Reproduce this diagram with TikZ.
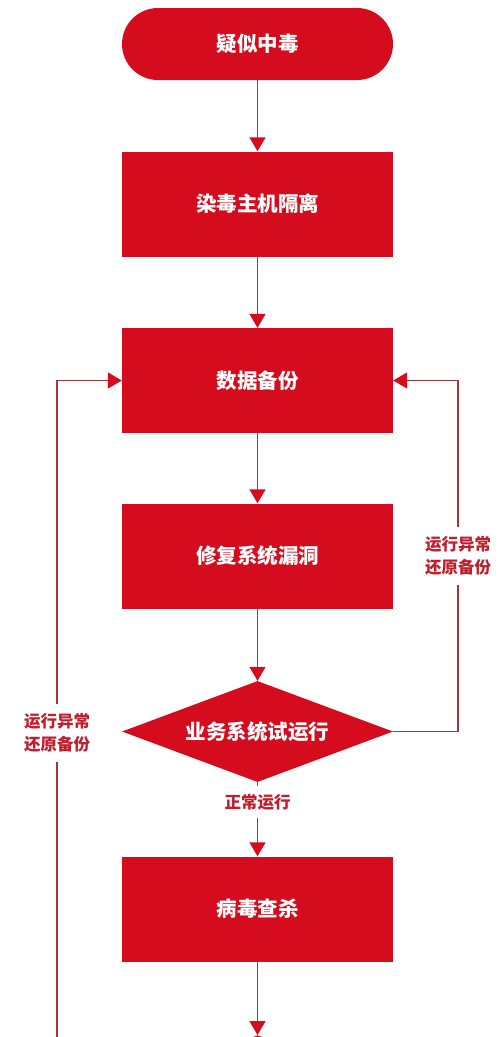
\documentclass[tikz,border=0pt]{standalone}
\usepackage{fontspec}
\newfontfamily\cjk{Noto Sans CJK SC}
\usetikzlibrary{arrows.meta,shapes.geometric}
\definecolor{boxred}{HTML}{D50C1D}
\definecolor{linered}{HTML}{A8343E}
\definecolor{labred}{HTML}{C21D2C}
\tikzset{
  stepbox/.style={fill=boxred, draw=none, minimum width=271pt, minimum height=105pt, inner sep=0pt, text=white, font=\cjk\bfseries\fontsize{20.5pt}{24pt}\selectfont},
  startbox/.style={stepbox, minimum height=72pt, rounded corners=36pt},
  decbox/.style={diamond, aspect=2.68, fill=boxred, draw=none, minimum width=271pt, minimum height=101pt, inner sep=0pt, text=white, font=\cjk\bfseries\fontsize{20.5pt}{24pt}\selectfont},
  conn/.style={draw=linered, line width=1.5pt, -{Triangle[length=14pt,width=16pt,color=boxred]}},
  plain/.style={draw=linered, line width=1.5pt},
  lab/.style={fill=white, text=labred, align=center, inner xsep=2pt, font=\cjk\bfseries\fontsize{16.5pt}{23pt}\selectfont},
}
\begin{document}
\begin{tikzpicture}[x=1pt,y=-1pt]
\useasboundingbox (0,0) rectangle (500,1037);
\clip (0,0) rectangle (500,1037);
\node[startbox] (s) at (257.5,44) {疑似中毒};
\node[stepbox] (b2) at (257.5,204) {染毒主机隔离};
\node[stepbox] (b3) at (257.5,380.5) {数据备份};
\node[stepbox] (b4) at (257.5,556) {修复系统漏洞};
\node[decbox] (d) at (257.5,731.5) {业务系统试运行};
\node[stepbox] (b5) at (257.5,909) {病毒查杀};
\node[decbox, anchor=north] (d2) at (257.5,1035) {};
\coordinate (rc) at (458,731.5);
\coordinate (rt) at (458,380.5);
\coordinate (lb) at (57,1050);
\coordinate (lt) at (57,380.5);
\draw[conn] (s) -- (b2);
\draw[conn] (b2) -- (b3);
\draw[conn] (b3) -- (b4);
\draw[conn] (b4) -- (d);
\draw[conn] (d) -- (b5);
\draw[conn] (b5) -- (d2);
\draw[conn] (d.east) -- (rc) -- (rt) -- (b3.east);
\draw[conn] (lb) -- (lt) -- (b3.west);
\node[lab, inner ysep=10pt] (l1) at (458,556) {运行异常\\还原备份};
\node[lab, inner ysep=10pt] (l2) at (57,733) {运行异常\\还原备份};
\node[lab, inner ysep=8pt] (l3) at (257.5,802) {正常运行};
\end{tikzpicture}
\end{document}
